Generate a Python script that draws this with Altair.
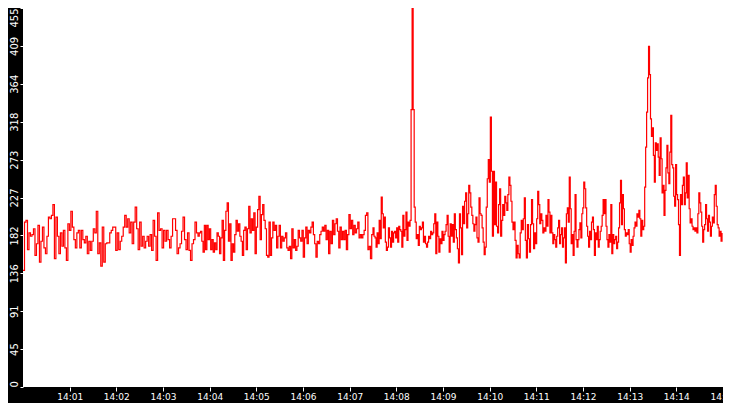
import altair as alt
import pandas as pd

# y values, in four consecutive 3m45s segments
seg_a = [140, 198, 200, 165, 185, 181, 183, 190, 158, 172, 194, 150, 175, 192, 167, 160, 181, 204, 202, 206,
         219, 154, 204, 181, 160, 185, 169, 188, 167, 152, 196, 188, 211, 192, 177, 167, 185, 188, 167, 188,
         177, 173, 181, 160, 175, 164, 175, 190, 185, 211, 160, 173, 145, 192, 150, 172, 173, 173, 185, 188,
         192, 192, 164, 185, 165, 175, 181, 192, 206, 192, 202, 185, 198, 172, 198, 216, 190, 165, 198, 169,
         181, 167, 175, 181, 169, 183, 164, 200, 181, 152, 209, 188, 190, 167, 188, 175, 188, 177, 167, 181,
         202, 202, 188, 160, 167, 172, 187, 204, 177, 165, 185, 164, 152, 172, 177, 198, 185]
seg_b = [181, 185, 187, 175, 162, 194, 165, 194, 177, 190, 165, 177, 162, 173, 165, 185, 181, 160, 179, 200,
         152, 188, 211, 221, 175, 196, 152, 172, 162, 183, 200, 187, 196, 181, 175, 158, 188, 192, 165, 190,
         217, 185, 202, 188, 209, 160, 192, 213, 229, 177, 207, 219, 200, 190, 158, 156, 198, 158, 179, 198,
         188, 194, 167, 181, 194, 167, 181, 175, 179, 185, 167, 164, 169, 154, 190, 167, 177, 164, 169, 188,
         179, 175, 188, 156, 179, 192, 172, 188, 185, 192, 198, 183, 172, 156, 175, 172, 183, 187, 192, 187,
         194, 177, 188, 160, 187, 172, 200, 183, 196, 202, 187, 167, 192, 177, 187, 177, 188, 165, 183, 207,
         190, 200, 183, 194, 185, 190, 198, 179, 183, 179, 183, 188, 206, 209, 165, 169, 154, 183]
seg_c = [191, 181, 179, 168, 185, 172, 200, 178, 228, 208, 191, 204, 174, 164, 168, 191, 179, 168, 187, 174,
         185, 187, 179, 191, 174, 193, 189, 187, 168, 206, 181, 189, 210, 176, 198, 193, 200, 333, 455, 333,
         216, 198, 178, 183, 170, 193, 189, 191, 198, 174, 181, 172, 168, 174, 181, 178, 187, 183, 185, 196,
         208, 160, 198, 181, 162, 178, 172, 187, 176, 183, 187, 195, 206, 181, 162, 196, 181, 195, 174, 208,
         189, 179, 166, 149, 208, 191, 159, 217, 196, 223, 233, 191, 208, 242, 233, 216, 206, 196, 187, 195,
         204, 179, 174, 227, 208, 206, 191, 174, 159, 168, 216, 250, 273, 246, 324, 259, 181, 259, 195, 246,
         193, 185, 219, 238, 181, 200, 219, 206, 229, 221, 212, 231, 252, 242, 223, 198, 189, 198, 176, 155,
         170, 160, 155, 185, 200, 189, 202, 227, 176, 155, 195, 178, 162, 195, 225, 196, 166, 185, 172, 202,
         235, 219, 196, 208, 200, 185, 191, 187, 206, 193]
seg_d = [225, 210, 185, 206, 185, 172, 183, 177, 168, 181, 191, 200, 172, 183, 191, 168, 179, 191, 149, 208,
         215, 198, 252, 214, 172, 183, 158, 187, 231, 177, 168, 177, 189, 197, 179, 208, 215, 246, 238, 215,
         193, 181, 168, 187, 177, 198, 204, 189, 158, 185, 177, 193, 168, 177, 187, 193, 206, 225, 208, 225,
         193, 177, 168, 183, 174, 219, 160, 183, 172, 177, 181, 166, 174, 191, 221, 248, 195, 231, 214, 189,
         181, 185, 183, 189, 172, 162, 177, 170, 181, 191, 198, 193, 208, 204, 212, 202, 181, 200, 189, 193,
         240, 288, 330, 371, 409, 375, 322, 301, 311, 278, 246, 293, 284, 292, 276, 254, 299, 274, 233, 242,
         206, 236, 263, 290, 257, 244, 282, 326, 267, 263, 229, 217, 267, 231, 225, 195, 158, 231, 219, 242,
         252, 219, 233, 269, 227, 254, 214, 197, 202, 193, 189, 191, 187, 191, 185, 208, 233, 221, 210, 193,
         174, 189, 195, 219, 202, 187, 206, 198, 181, 193, 204, 197, 231, 242, 217, 195, 191, 181, 187, 175, 185]

segments = [seg_a, seg_b, seg_c, seg_d]
segment_seconds = 225
start = pd.Timestamp("2024-01-01 14:00:00")

y_ticks = [0, 45.5, 91, 136.5, 182, 227.5, 273, 318.5, 364, 409.5, 455]
x_tick_minutes = list(range(1, 16))

rows = []
for k, seg in enumerate(segments):
    n = len(seg)
    for i, v in enumerate(seg):
        t = start + pd.Timedelta(seconds=k * segment_seconds + i * segment_seconds / n)
        rows.append({"time": t, "value": v})
df = pd.DataFrame(rows)

x_vals = [alt.DateTime(year=2024, month=1, date=1, hours=14, minutes=m) for m in x_tick_minutes]

chart = alt.Chart(df).mark_line(color="#ff0000", strokeWidth=1.2, interpolate="step-after", clip=True).encode(
    x=alt.X("time:T",
            scale=alt.Scale(domain=[alt.DateTime(year=2024, month=1, date=1, hours=14, minutes=0),
                                    alt.DateTime(year=2024, month=1, date=1, hours=14, minutes=15)]),
            axis=alt.Axis(title=None, values=x_vals, format="%H:%M", labelFlush=False, labelOverlap=False,
                          tickSize=4, labelPadding=1, labelFontSize=9)),
    y=alt.Y("value:Q",
            scale=alt.Scale(domain=[0, 455], nice=False),
            axis=alt.Axis(title=None, values=y_ticks, labelExpr="floor(datum.value)",
                          labelAngle=270, labelFlush=False, labelOverlap=False,
                          labelAlign={"condition": [{"test": "datum.value <= 0", "value": "left"},
                                                    {"test": "datum.value >= 455", "value": "right"}],
                                      "value": "center"},
                          labelBaseline="bottom",
                          tickSize=3, labelPadding=1, labelFontSize=10)),
).properties(
    width=700, height=379,
    autosize="none",
    padding={"left": 15, "top": 0, "right": 0, "bottom": 16},
).configure(background="black").configure_view(
    fill="white", strokeWidth=0
).configure_axis(
    grid=False, domain=False, labelColor="white", tickColor="white", labelFont="DejaVu Sans"
)

chart.save("out.html", embed_options={"renderer": "svg", "actions": False})
